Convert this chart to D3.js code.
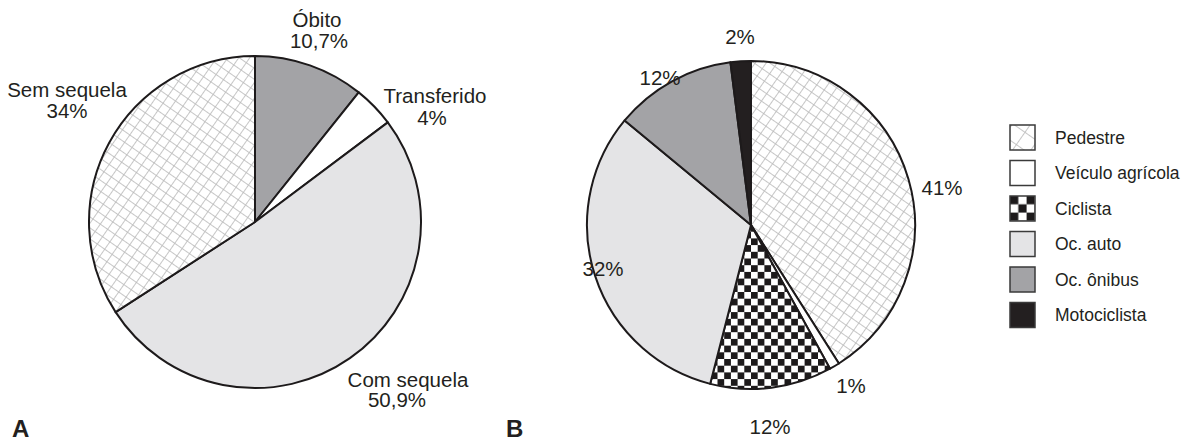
<!DOCTYPE html>
<html><head><meta charset="utf-8">
<script src="https://cdn.jsdelivr.net/npm/d3@7"></script>
<style>body{margin:0;background:#fff}svg{display:block;font-family:"Liberation Sans",Arial,sans-serif}</style>
</head><body><svg id="c" width="1182" height="443"></svg>
<script>
// ---- data ----
const catsA = ["Óbito","Transferido","Com sequela","Sem sequela"];
const valsA = [10.7, 4, 50.9, 34];
const labelsA = ["10,7%","4%","50,9%","34%"];
const catsB = ["Pedestre","Veículo agrícola","Ciclista","Oc. auto","Oc. ônibus","Motociclista"];
const valsB = [41, 1, 12, 32, 12, 2];
const labelsB = ["41%","1%","12%","32%","12%","2%"];

// ---- styles ----
const fillA = ["#a3a3a6","#ffffff","#e4e4e6","url(#hatch)"];
const fillB = ["url(#hatch)","#ffffff","url(#checker)","#e4e4e6","#a3a3a6","#231f20"];

const svg = d3.select("#c");
const defs = svg.append("defs");
function hatch(id, s, rot, sw){
  const p = defs.append("pattern").attr("id",id).attr("patternUnits","userSpaceOnUse")
    .attr("width",s).attr("height",s).attr("patternTransform",`rotate(${rot})`);
  p.append("rect").attr("width",s).attr("height",s).attr("fill","#fff");
  p.append("line").attr("x1",0).attr("y1",0).attr("x2",s).attr("y2",0).attr("stroke","#bcbcbc").attr("stroke-width",sw);
  p.append("line").attr("x1",0).attr("y1",0).attr("x2",0).attr("y2",s).attr("stroke","#bcbcbc").attr("stroke-width",sw);
}
hatch("hatch", 9, 35, 1.7);
hatch("hatchL", 15, 35, 1.7);
function checker(id, s){
  const p = defs.append("pattern").attr("id",id).attr("patternUnits","userSpaceOnUse")
    .attr("width",2*s).attr("height",2*s);
  p.append("rect").attr("width",2*s).attr("height",2*s).attr("fill","#fff");
  p.append("rect").attr("width",s).attr("height",s).attr("fill","#1d1a1b");
  p.append("rect").attr("x",s).attr("y",s).attr("width",s).attr("height",s).attr("fill","#1d1a1b");
}
checker("checker", 6.7);
const cl = defs.append("pattern").attr("id","checkerL").attr("patternUnits","userSpaceOnUse")
  .attr("x",1010).attr("y",196).attr("width",16.6).attr("height",16.6);
cl.append("rect").attr("width",16.6).attr("height",16.6).attr("fill","#fff");
cl.append("rect").attr("width",8.3).attr("height",8.3).attr("fill","#1d1a1b");
cl.append("rect").attr("x",8.3).attr("y",8.3).attr("width",8.3).attr("height",8.3).attr("fill","#1d1a1b");

const pie = d3.pie().sort(null).value(d=>d);

function drawPie(cx, cy, r, vals, fills){
  const g = svg.append("g").attr("transform",`translate(${cx},${cy})`);
  const arc = d3.arc().innerRadius(0).outerRadius(r);
  g.selectAll("path").data(pie(vals)).join("path")
    .attr("d",arc).attr("fill",(d,i)=>fills[i])
    .attr("stroke","#1d1a1b").attr("stroke-width",2).attr("stroke-linejoin","round");
  return g;
}
drawPie(255, 222, 166, valsA, fillA);
drawPie(751, 225, 164, valsB, fillB);

// ---- labels A ---- [x line1, y line1, x line2, y line2]
const fs = 20.5;
const posA = [[317,27,319,48],[435,103,432,125],[408,387,397,407],[67,97,67,118]];
const t = svg.append("g").attr("font-size",fs).attr("fill","#231f20").attr("text-anchor","middle");
catsA.forEach((c,i)=>{
  const p = posA[i];
  t.append("text").attr("x",p[0]).attr("y",p[1]).text(c);
  t.append("text").attr("x",p[2]).attr("y",p[3]).text(labelsA[i]);
});
// ---- labels B ----
const posB = [[942,195],[851,393],[770,434],[603,276],[660,85],[740,44]];
labelsB.forEach((l,i)=>{
  t.append("text").attr("x",posB[i][0]).attr("y",posB[i][1]).text(l);
});
// panel letters
svg.append("text").attr("x",12).attr("y",437).attr("font-size",24).attr("font-weight","bold").attr("fill","#231f20").text("A");
svg.append("text").attr("x",506).attr("y",437).attr("font-size",24).attr("font-weight","bold").attr("fill","#231f20").text("B");

// ---- legend ----
const legFill = ["url(#hatchL)","#ffffff","url(#checkerL)","#e4e4e6","#a3a3a6","#231f20"];
const lg = svg.append("g");
catsB.forEach((c,i)=>{
  const y = 125 + i*35.5;
  lg.append("rect").attr("x",1010).attr("y",y).attr("width",25).attr("height",25)
    .attr("fill",legFill[i]).attr("stroke","#3a3a3a").attr("stroke-width",1.5);
  lg.append("text").attr("x",1055).attr("y",y+18.5).attr("font-size",17.5).attr("fill","#231f20").text(c);
});
</script></body></html>
